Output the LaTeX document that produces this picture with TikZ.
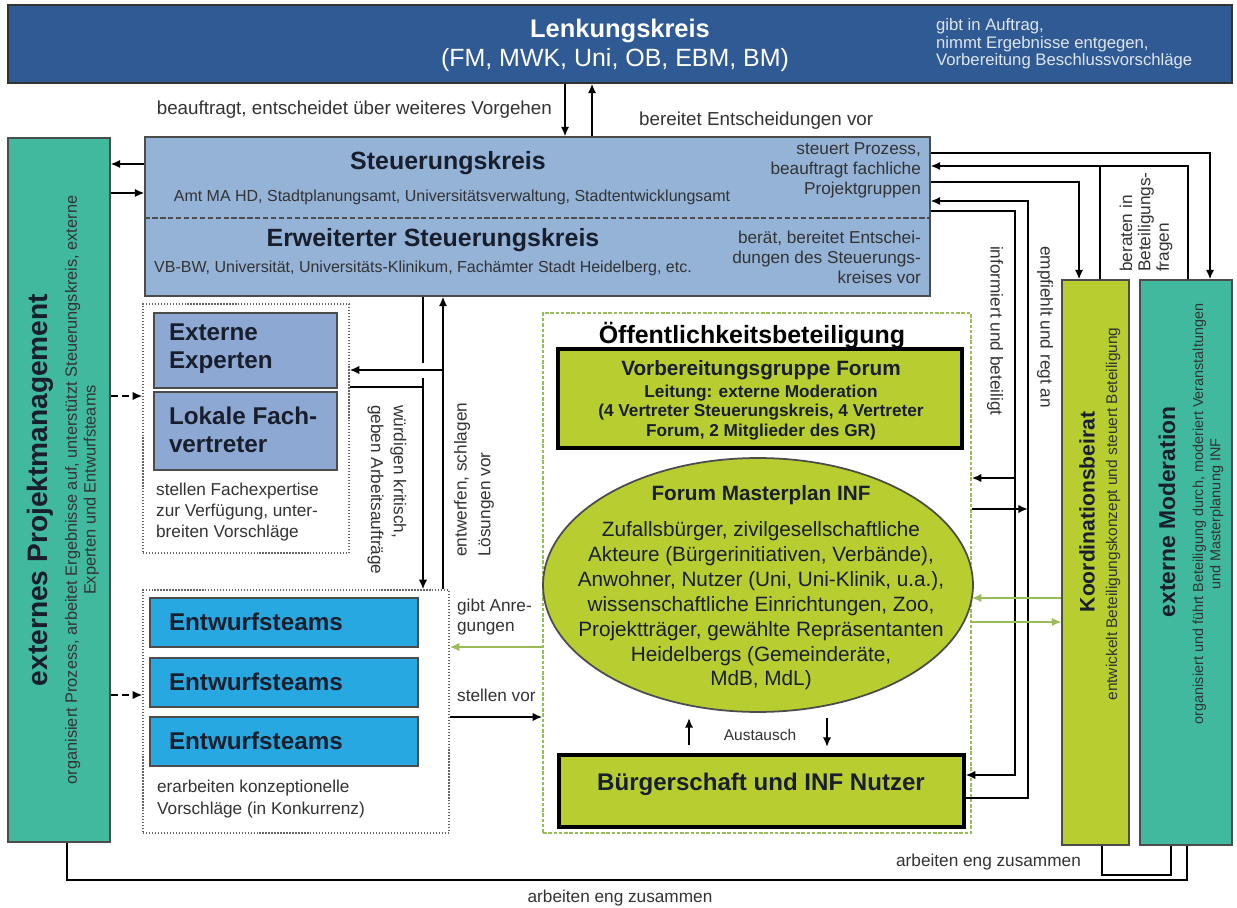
\documentclass[tikz,border=0pt]{standalone}
\usepackage{fontspec}
\setmainfont{Liberation Sans}
\usetikzlibrary{fit,shapes.geometric,arrows.meta}

\definecolor{lenkblue}{RGB}{47,90,148}
\definecolor{steublue}{RGB}{149,179,215}
\definecolor{expblue}{RGB}{141,168,210}
\definecolor{entblue}{RGB}{40,168,224}
\definecolor{pmteal}{RGB}{64,185,158}
\definecolor{oeffgreen}{RGB}{184,206,48}
\definecolor{arrgreen}{RGB}{155,187,89}
\definecolor{darktxt}{RGB}{25,30,45}

\newcommand{\fsHead}{\fontsize{14.2}{17}\selectfont\bfseries}
\newcommand{\fsMid}{\fontsize{11.8}{14.2}\selectfont}
\newcommand{\fsSmall}{\fontsize{9.8}{12.2}\selectfont}

\begin{document}
\begin{tikzpicture}[x=0.02cm,y=-0.02cm,line width=1.3pt,>={Latex[length=5.5pt,width=4.8pt]},
  plainbox/.style={draw=black!70,line width=0.6pt,inner sep=0pt},
  grpbox/.style={draw=black!60,line width=0.7pt,densely dotted,inner sep=0pt},
  thickbox/.style={draw=black,line width=1.8pt,fill=oeffgreen,inner sep=0pt},
  arr/.style={->,line width=1.3pt},
  dasharr/.style={->,line width=1.3pt,dash pattern=on 4pt off 2.5pt},
  greenarr/.style={->,draw=arrgreen,line width=1.5pt},
  lbl/.style={font=\fsSmall,text=black!80,inner sep=0pt},
]
\fill[white] (0,0) rectangle (1237,908);
\useasboundingbox (0,0) rectangle (1237,908);

% Lenkungskreis
\node[fit={(8,5) (1232,83)},plainbox,fill=lenkblue,draw=black!80] (lenk) {};
\node[font=\fontsize{14.5}{17}\selectfont\bfseries,text=white] (lenktitle) at (620,31) {Lenkungskreis};
\node[font=\fontsize{14.2}{17}\selectfont,text=white] (lenksub) at (615,60) {(FM, MWK, Uni, OB, EBM, BM)};
\node[font=\fontsize{9.5}{10}\selectfont,text=white!85!lenkblue,align=left,anchor=west,inner sep=0pt] (lenkrole) at (935,44) {gibt in Auftrag,\\nimmt Ergebnisse entgegen,\\Vorbereitung Beschlussvorschläge};

% Steuerungskreis
\node[fit={(145,137) (930,296)},plainbox,fill=steublue] (steu) {};
\draw[draw=black!70,line width=1pt,dash pattern=on 3pt off 1.5pt] (steu.west |- 0,218) -- (steu.east |- 0,218);
\node[font=\fsHead,text=darktxt] (steutitle) at (448,163) {Steuerungskreis};
\node[font=\fontsize{9.1}{11}\selectfont,text=black!80] (steusub) at (452,197) {Amt MA HD, Stadtplanungsamt, Universitätsverwaltung, Stadtentwicklungsamt};
\node[font=\fsHead,text=darktxt] (erwtitle) at (433,240) {Erweiterter Steuerungskreis};
\node[font=\fontsize{9.1}{11}\selectfont,text=black!80] (erwsub) at (423,268) {VB-BW, Universität, Universitäts-Klinikum, Fachämter Stadt Heidelberg, etc.};
\node[lbl,font=\fontsize{9.8}{11.4}\selectfont,align=right,anchor=east] (steurole) at (922,170) {steuert Prozess,\\beauftragt fachliche\\Projektgruppen};
\node[lbl,font=\fontsize{9.8}{11.4}\selectfont,align=right,anchor=east] (erwrole) at (922,257) {berät, bereitet Entschei-\\dungen des Steuerungs-\\kreises vor};

% externes Projektmanagement
\node[fit={(8,138) (110,842)},plainbox,fill=pmteal] (pm) {};
\node[font=\fontsize{16}{19}\selectfont\bfseries,text=darktxt,rotate=90] (pmtitle) at (40,490) {externes Projektmanagement};
\node[lbl,font=\fontsize{9.3}{10.6}\selectfont,rotate=90,align=center] (pmsub) at (82,490) {organisiert Prozess, arbeitet Ergebnisse auf, unterstützt Steuerungskreis, externe\\Experten und Entwurfsteams};

% Experten
\node[fit={(143,304) (349,553)},grpbox] (expgrp) {};
\node[fit={(154,313) (337,388)},plainbox,fill=expblue] (extexp) {};
\node[fit={(154,392) (337,470)},plainbox,fill=expblue] (lokfach) {};
\node[font=\fontsize{13.8}{16}\selectfont\bfseries,text=darktxt,align=left,anchor=west] (extexptxt) at (162,349) {Externe\\Experten};
\node[font=\fontsize{13.8}{16}\selectfont\bfseries,text=darktxt,align=left,anchor=west] (lokfachtxt) at (162,430) {Lokale Fach-\\vertreter};
\node[lbl,align=left,anchor=west] (exprole) at (155,512) {stellen Fachexpertise\\zur Verfügung, unter-\\breiten Vorschläge};

% Entwurfsteams
\node[fit={(143,590) (449,833)},grpbox] (entgrp) {};
\foreach \i/\yt in {1/598,2/658,3/717}{
  \node[fit={(150,\yt) (418,\yt+49)},plainbox,fill=entblue] (ent\i) {};
  \node[font=\fontsize{13.8}{16}\selectfont\bfseries,text=darktxt,anchor=west] (enttxt\i) at (162,\yt+24) {Entwurfsteams};
}
\node[lbl,font=\fontsize{9.8}{12.4}\selectfont,align=left,anchor=west] (entrole) at (156,799) {erarbeiten konzeptionelle\\Vorschläge (in Konkurrenz)};

% Oeffentlichkeitsbeteiligung
\node[fit={(543,313) (971,833)},draw=arrgreen,line width=0.8pt,dash pattern=on 2pt off 1pt,inner sep=0pt] (oeff) {};
\node[font=\fsHead,text=black] (oefftitle) at (752,335) {Öffentlichkeitsbeteiligung};
\node[fit={(558,349) (962,448)},thickbox] (vorb) {};
\node[font=\fontsize{9.8}{11.1}\selectfont\bfseries,text=darktxt,align=center] (vorbtxt) at (761,400) {{\fsMid\bfseries Vorbereitungsgruppe Forum}\\[1.5pt]Leitung: externe Moderation\\(4 Vertreter Steuerungskreis, 4 Vertreter\\Forum, 2 Mitglieder des GR)};
\node[ellipse,draw=black!70,line width=1pt,fill=oeffgreen,minimum width=8.6cm,minimum height=5.08cm,inner sep=0pt] (forum) at (758,585) {};
\node[font=\fsMid,text=darktxt,align=center] (forumtxt) at (761,588) {{\bfseries Forum Masterplan INF}\\[6pt]Zufallsbürger, zivilgesellschaftliche\\Akteure (Bürgerinitiativen, Verbände),\\Anwohner, Nutzer (Uni, Uni-Klinik, u.a.),\\wissenschaftliche Einrichtungen, Zoo,\\Projektträger, gewählte Repräsentanten\\Heidelbergs (Gemeinderäte,\\MdB, MdL)};
\node[fit={(559,755) (964,827)},thickbox] (buerg) {};
\node[font=\fontsize{13.7}{16}\selectfont\bfseries,text=darktxt] (buergtxt) at (761,784) {Bürgerschaft und INF Nutzer};
\coordinate (austupS) at (689,745);
\coordinate (austupE) at (689,718);
\coordinate (austdnS) at (827,718);
\coordinate (austdnE) at (827,747);
\draw[arr] (austupS) -- (austupE);
\draw[arr] (austdnS) -- (austdnE);
\node[lbl,font=\fontsize{8.8}{10}\selectfont] (austlbl) at (760,735) {Austausch};

% Koordinationsbeirat, externe Moderation
\node[fit={(1062,280) (1129,845)},plainbox,fill=oeffgreen] (koord) {};
\node[font=\fontsize{12}{14}\selectfont\bfseries,text=darktxt,rotate=90] (koordtitle) at (1087,512) {Koordinationsbeirat};
\node[lbl,font=\fontsize{8.8}{10}\selectfont,rotate=90] (koordsub) at (1113,514) {entwickelt Beteiligungskonzept und steuert Beteiligung};
\node[fit={(1140,280) (1232,845)},plainbox,fill=pmteal] (extmod) {};
\node[font=\fontsize{13}{15}\selectfont\bfseries,text=darktxt,rotate=90] (extmodtitle) at (1167,512) {externe Moderation};
\node[lbl,font=\fontsize{8.2}{9.7}\selectfont,rotate=90,align=center] (extmodsub) at (1208,514) {organisiert und führt Beteiligung durch, moderiert Veranstaltungen\\und Masterplanung INF};

% Lenkungskreis <-> Steuerungskreis
\draw[arr] (lenk.south -| 565,0) -- (steu.north -| 565,0);
\draw[arr] (steu.north -| 592,0) -- (lenk.south -| 592,0);
\node[lbl,font=\fontsize{10.7}{12}\selectfont,anchor=east] (beauftlbl) at (553,110) {beauftragt, entscheidet über weiteres Vorgehen};
\node[lbl,font=\fontsize{10.7}{12}\selectfont,anchor=west] (bereitlbl) at (638,121) {bereitet Entscheidungen vor};

% Projektmanagement
\draw[arr] (steu.west |- 0,164) -- (pm.east |- 0,164);
\draw[arr] (pm.east |- 0,193) -- (steu.west |- 0,193);
\draw[dasharr] (pm.east |- 0,396) -- (expgrp.west |- 0,396);
\draw[dasharr] (pm.east |- 0,695) -- (entgrp.west |- 0,695);

% Steuerungskreis <-> Experten, Entwurfsteams
\coordinate (jumpA) at (423,363);
\coordinate (jumpB) at (423,378);
\draw (steu.south -| 423,0) -- (jumpA);
\draw[arr] (jumpB) -- (entgrp.north -| 423,0);
\draw (expgrp.east |- 0,387) -- (423,387);
\draw[arr] (entgrp.north -| 443,0) -- (steu.south -| 443,0);
\draw[arr] (443,370) -- (expgrp.east |- 0,370);
\node[lbl,font=\fontsize{9.8}{13}\selectfont,rotate=-90,align=left,anchor=west] (wuerdlbl) at (387,404) {würdigen kritisch,\\geben Arbeitsaufträge};
\node[lbl,font=\fontsize{9.8}{13.5}\selectfont,rotate=90,align=left,anchor=west] (entwlbl) at (474,558) {entwerfen, schlagen\\Lösungen vor};

% Entwurfsteams <-> Forum
\draw[greenarr] (oeff.west |- 0,647) -- (entgrp.east |- 0,647);
\draw[arr] (entgrp.east |- 0,717) -- (oeff.west |- 0,717);
\node[lbl,font=\fontsize{9.8}{11.4}\selectfont,align=left,anchor=west] (anreglbl) at (456,617) {gibt Anre-\\gungen};
\node[lbl,anchor=west] (stellbl) at (456,695) {stellen vor};

% Steuerungskreis <-> rechte Seite
\draw[arr] (steu.east |- 0,153) -| (extmod.north -| 1210,0);
\draw[arr] (extmod.north -| 1188,0) |- (steu.east |- 0,166);
\draw (koord.north -| 1100,0) -- (1100,166);
\draw[arr] (steu.east |- 0,182) -| (koord.north -| 1079,0);
\draw[arr] (buerg.east |- 0,798) -| (1028,201) -- (steu.east |- 0,201);
\draw[arr] (oeff.east |- 0,509) -- (1028,509);
\draw[arr] (steu.east |- 0,211) -| (1015,775) -- (buerg.east |- 0,775);
\draw[arr] (1015,478) -- (oeff.east |- 0,478);
\node[lbl,rotate=-90,anchor=west] (informlbl) at (995,245) {informiert und beteiligt};
\node[lbl,rotate=-90,anchor=west] (empflbl) at (1045,245) {empfiehlt und regt an};
\node[lbl,font=\fontsize{9.8}{10.5}\selectfont,rotate=90,align=left,anchor=west] (beratlbl) at (1146,273) {beraten in\\Beteiligungs-\\fragen};

% Forum <-> Koordinationsbeirat
\draw[greenarr] (koord.west |- 0,598) -- (oeff.east |- 0,598);
\draw[greenarr] (oeff.east |- 0,622) -- (koord.west |- 0,622);

% arbeiten eng zusammen
\draw (pm.south -| 67,0) |- (1187,880) -- (extmod.south -| 1187,0);
\draw (koord.south -| 1102,0) |- (1171,875) -- (extmod.south -| 1171,0);
\node[lbl,anchor=north] (pmmodlbl) at (620,889) {arbeiten eng zusammen};
\node[lbl,anchor=east] (koordmodlbl) at (1082,862) {arbeiten eng zusammen};
\end{tikzpicture}
\end{document}
